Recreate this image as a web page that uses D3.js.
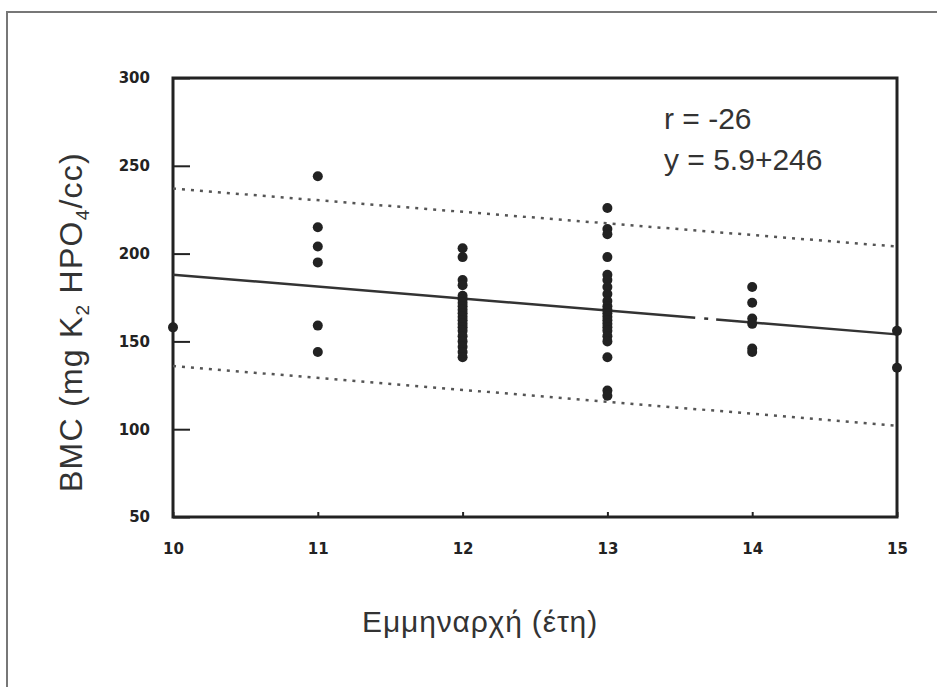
<!DOCTYPE html>
<html>
<head>
<meta charset="utf-8">
<script src="https://cdn.jsdelivr.net/npm/d3@7"></script>
<style>
  body { margin: 0; background: #fff; }
  svg { display: block; }
</style>
</head>
<body>
<div id="viz"></div>
<script>
// menarche age (years) and BMC readings at each age
const ages = [10, 11, 12, 13, 14, 15];
const bmcByAge = [
    [158],
    [244, 215, 204, 195, 159, 144],
    [203, 198, 185, 182, 176, 174, 172, 170, 168, 166, 164, 162, 160, 158, 156, 153, 150, 147, 144, 141],
    [226, 214, 211, 198, 188, 185, 181, 177, 173, 170, 168, 166, 164, 162, 160, 158, 156, 153, 150, 141, 122, 119],
    [181, 172, 163, 160, 146, 144],
    [156, 135]
];
const fitLine = [188, 154];     // value at x=10 and x=15
const upperBand = [237, 204];
const lowerBand = [136, 102];
const yTicks = [50, 100, 150, 200, 250, 300];
const xTicks = [10, 11, 12, 13, 14, 15];
const annotations = ['r = -26', 'y = 5.9+246'];

// stretch a text to a wanted length with letter spacing
function fitText(sel, target) {
    const node = sel.node();
    const len = node.getComputedTextLength();
    const n = node.textContent.length;
    sel.attr('letter-spacing', ((target - len) / n).toFixed(2));
}

function buildChart(containerId) {
    const width = 937;
    const height = 687;

    const margin = {
        top: 78,
        bottom: 170,
        right: 40,
        left: 173
    }

    const innerWidth = width - margin.left - margin.right;
    const innerHeight = height - margin.top - margin.bottom;

    const svg = d3.select(containerId)
                    .append('svg')
                    .attr('height', height)
                    .attr('width', width);

    // scanned page frame
    svg.append('path')
       .attr('d', 'M7,' + height + ' L7,12 L' + width + ',12')
       .attr('fill', 'none')
       .attr('stroke', '#777')
       .attr('stroke-width', 2);

    const g = svg.append('g')
                .attr('transform', 'translate(' + margin.left + ',' + margin.top + ')');

    const x = d3.scaleLinear()
                .domain([10, 15])
                .range([0, innerWidth]);

    const y = d3.scaleLinear()
                .domain([50, 300])
                .range([innerHeight, 0]);

    const yAxis = d3.axisLeft(y)
                    .tickValues(yTicks)
                    .tickSizeInner(-17)
                    .tickSizeOuter(0)
                    .tickPadding(23);

    const xAxis = d3.axisBottom(x)
                    .tickValues(xTicks)
                    .tickFormat(d3.format('d'))
                    .tickSizeInner(-5)
                    .tickSizeOuter(0)
                    .tickPadding(26);

    g.append('g')
     .attr('class', 'y-axis')
     .call(yAxis);

    g.append('g')
     .attr('class', 'x-axis')
     .attr('transform', 'translate(0,' + innerHeight + ')')
     .call(xAxis);

    g.selectAll('.domain').remove();
    g.selectAll('.tick line')
     .attr('stroke', '#222')
     .attr('stroke-width', 2);
    g.selectAll('.tick text')
     .attr('font-family', 'DejaVu Sans')
     .attr('font-weight', 'bold')
     .attr('font-size', 15)
     .attr('fill', '#222');

    // frame of the plot
    g.append('rect')
     .attr('x', 0)
     .attr('y', 0)
     .attr('width', innerWidth)
     .attr('height', innerHeight)
     .attr('fill', 'none')
     .attr('stroke', '#222')
     .attr('stroke-width', 3);

    const bands = [upperBand, lowerBand];
    g.selectAll('.band')
     .data(bands)
     .enter()
     .append('line')
     .attr('class', 'band')
     .attr('x1', x(10))
     .attr('x2', x(15))
     .attr('y1', d => y(d[0]))
     .attr('y2', d => y(d[1]))
     .attr('stroke', '#555')
     .attr('stroke-width', 2.5)
     .attr('stroke-dasharray', '3,6');

    g.append('line')
     .attr('class', 'fit')
     .attr('x1', x(10))
     .attr('x2', x(15))
     .attr('y1', y(fitLine[0]))
     .attr('y2', y(fitLine[1]))
     .attr('stroke', '#333')
     .attr('stroke-width', 2.5)
     .attr('stroke-dasharray', '524,9,4,8,1000');

    const points = [];
    ages.forEach((a, i) => {
        bmcByAge[i].forEach(v => points.push({ age: a, bmc: v }));
    });

    g.selectAll('.dot')
     .data(points)
     .enter()
     .append('circle')
     .attr('class', 'dot')
     .attr('cx', d => x(d.age))
     .attr('cy', d => y(d.bmc))
     .attr('r', 5)
     .attr('fill', '#222');

    g.selectAll('.note')
     .data(annotations)
     .enter()
     .append('text')
     .attr('class', 'note')
     .attr('x', 491)
     .attr('y', (d, i) => 51 + i * 41)
     .attr('font-family', 'Liberation Sans')
     .attr('font-size', 30)
     .attr('fill', '#333')
     .text(d => d);

    const xl = svg.append('text')
     .attr('class', 'x-axis-label')
     .attr('x', 480)
     .attr('y', 632)
     .attr('text-anchor', 'middle')
     .attr('font-family', 'Liberation Sans')
     .attr('font-size', 30)
     .attr('fill', '#333')
     .text('Εμμηναρχή (έτη)');
    fitText(xl, 236);

    const yl = svg.append('text')
     .attr('class', 'y-axis-label')
     .attr('transform', 'translate(82,322) rotate(-90)')
     .attr('text-anchor', 'middle')
     .attr('font-family', 'Liberation Sans')
     .attr('font-size', 32)
     .attr('fill', '#333');
    yl.append('tspan').text('BMC (mg K');
    yl.append('tspan').attr('font-size', 19).attr('dy', 7).text('2');
    yl.append('tspan').attr('dy', -7).text(' HPO');
    yl.append('tspan').attr('font-size', 19).attr('dy', 7).text('4');
    yl.append('tspan').attr('dy', -7).text('/cc)');
    fitText(yl, 340);
}

buildChart('#viz');
</script>
</body>
</html>
